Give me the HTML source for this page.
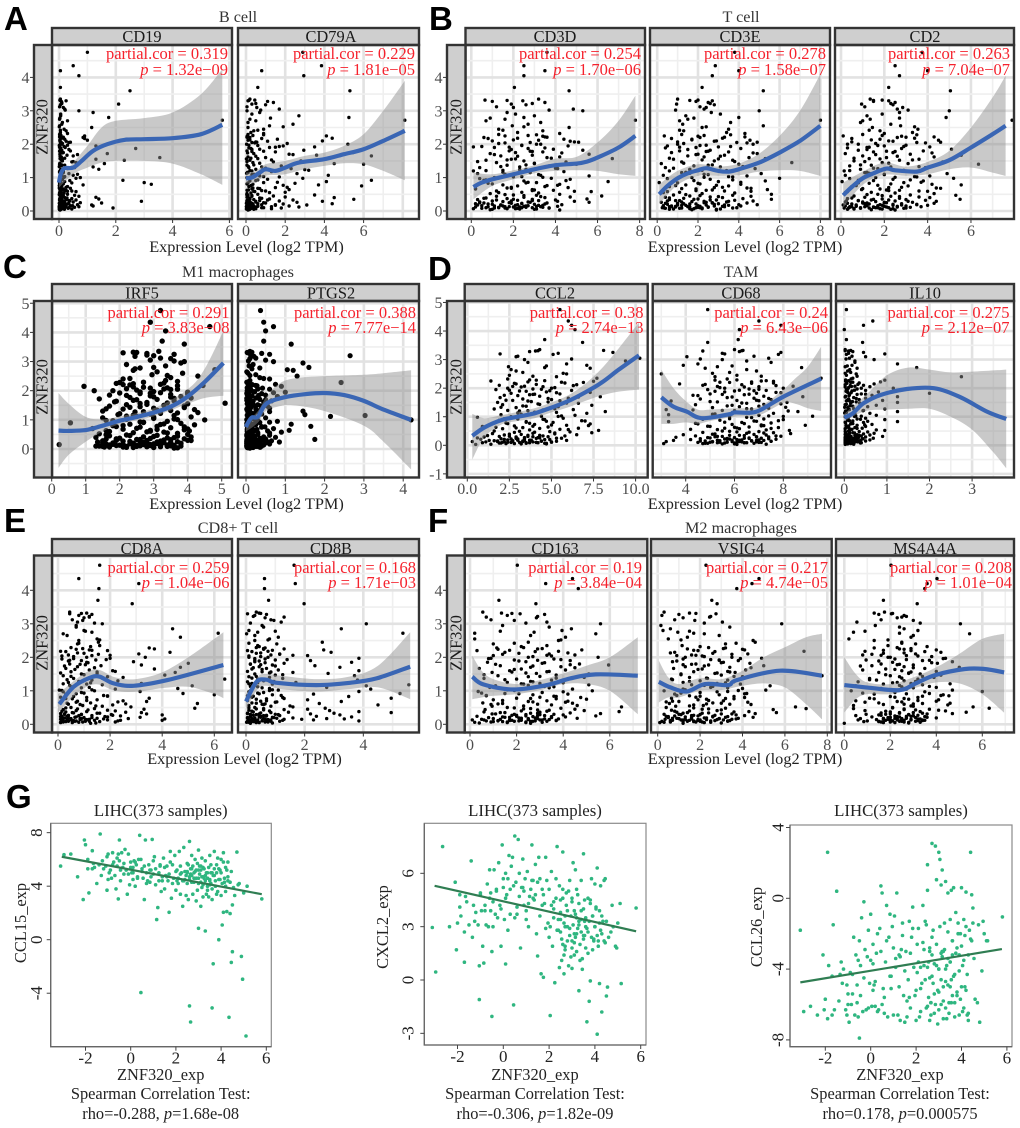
<!DOCTYPE html>
<html lang="en">
<head>
<meta charset="utf-8">
<title>ZNF320 immune correlation panels</title>
<style>
html,body{margin:0;padding:0;background:#fff;}
svg{display:block;}
text{font-family:"Liberation Serif",serif;}
.letter{font-family:"Liberation Sans",sans-serif;font-weight:bold;font-size:33px;fill:#000;}
.title{font-size:16.2px;fill:#333;text-anchor:middle;}
.strip{font-size:16.4px;fill:#1a1a1a;text-anchor:middle;}
.stat{font-size:16.5px;fill:#f5222d;text-anchor:end;}
.xlab{font-size:16.3px;fill:#222;text-anchor:middle;}
.glab{font-size:16.4px;fill:#222;text-anchor:middle;}
</style>
</head>
<body>
<svg id="figure" xmlns="http://www.w3.org/2000/svg" width="1020" height="1128" viewBox="0 0 1020 1128">
<g id="charts"></g>
<g>
<text class="letter" x="4" y="30">A</text>
<text class="letter" x="429" y="30">B</text>
<text class="letter" x="3" y="278">C</text>
<text class="letter" x="428" y="280">D</text>
<text class="letter" x="4" y="532">E</text>
<text class="letter" x="428" y="532">F</text>
<text class="letter" x="6" y="808">G</text>
</g>
<g>
<text class="title" x="238" y="22">B cell</text>
<text class="title" x="741" y="22">T cell</text>
<text class="title" x="238" y="277">M1 macrophages</text>
<text class="title" x="741" y="277">TAM</text>
<text class="title" x="238" y="533">CD8+ T cell</text>
<text class="title" x="741" y="533">M2 macrophages</text>
</g>
<g>
<text class="strip" x="142" y="42">CD19</text>
<text class="strip" x="331" y="42">CD79A</text>
<text class="strip" x="555" y="42">CD3D</text>
<text class="strip" x="740" y="42">CD3E</text>
<text class="strip" x="925" y="42">CD2</text>
<text class="strip" x="142" y="298.5">IRF5</text>
<text class="strip" x="331" y="298.5">PTGS2</text>
<text class="strip" x="555" y="298.5">CCL2</text>
<text class="strip" x="741" y="298.5">CD68</text>
<text class="strip" x="925" y="298.5">IL10</text>
<text class="strip" x="142" y="554">CD8A</text>
<text class="strip" x="331" y="554">CD8B</text>
<text class="strip" x="555" y="554">CD163</text>
<text class="strip" x="741" y="554">VSIG4</text>
<text class="strip" x="925" y="554">MS4A4A</text>
<text class="strip" transform="translate(47.5,127) rotate(-90)">ZNF320</text>
<text class="strip" transform="translate(461.5,127) rotate(-90)">ZNF320</text>
<text class="strip" transform="translate(47.5,387) rotate(-90)">ZNF320</text>
<text class="strip" transform="translate(461.5,387) rotate(-90)">ZNF320</text>
<text class="strip" transform="translate(47.5,643) rotate(-90)">ZNF320</text>
<text class="strip" transform="translate(461.5,643) rotate(-90)">ZNF320</text>
</g>
<g>
<text class="stat" x="228" y="59">partial.cor = 0.319</text>
<text class="stat" x="228" y="75"><tspan font-style="italic">p</tspan> = 1.32e−09</text>
<text class="stat" x="415" y="59">partial.cor = 0.229</text>
<text class="stat" x="415" y="75"><tspan font-style="italic">p</tspan> = 1.81e−05</text>
<text class="stat" x="641" y="59">partial.cor = 0.254</text>
<text class="stat" x="641" y="75"><tspan font-style="italic">p</tspan> = 1.70e−06</text>
<text class="stat" x="826" y="59">partial.cor = 0.278</text>
<text class="stat" x="826" y="75"><tspan font-style="italic">p</tspan> = 1.58e−07</text>
<text class="stat" x="1010" y="59">partial.cor = 0.263</text>
<text class="stat" x="1010" y="75"><tspan font-style="italic">p</tspan> = 7.04e−07</text>
<text class="stat" x="229.5" y="318">partial.cor = 0.291</text>
<text class="stat" x="229.5" y="333"><tspan font-style="italic">p</tspan> = 3.83e−08</text>
<text class="stat" x="416" y="318">partial.cor = 0.388</text>
<text class="stat" x="416" y="333"><tspan font-style="italic">p</tspan> = 7.77e−14</text>
<text class="stat" x="643.5" y="318">partial.cor = 0.38</text>
<text class="stat" x="643.5" y="333"><tspan font-style="italic">p</tspan> = 2.74e−13</text>
<text class="stat" x="828" y="318">partial.cor = 0.24</text>
<text class="stat" x="828" y="333"><tspan font-style="italic">p</tspan> = 6.43e−06</text>
<text class="stat" x="1009.5" y="318">partial.cor = 0.275</text>
<text class="stat" x="1009.5" y="333"><tspan font-style="italic">p</tspan> = 2.12e−07</text>
<text class="stat" x="229.5" y="573">partial.cor = 0.259</text>
<text class="stat" x="229.5" y="588"><tspan font-style="italic">p</tspan> = 1.04e−06</text>
<text class="stat" x="416" y="573">partial.cor = 0.168</text>
<text class="stat" x="416" y="588"><tspan font-style="italic">p</tspan> = 1.71e−03</text>
<text class="stat" x="642" y="573">partial.cor = 0.19</text>
<text class="stat" x="642" y="588"><tspan font-style="italic">p</tspan> = 3.84e−04</text>
<text class="stat" x="828" y="573">partial.cor = 0.217</text>
<text class="stat" x="828" y="588"><tspan font-style="italic">p</tspan> = 4.74e−05</text>
<text class="stat" x="1012" y="573">partial.cor = 0.208</text>
<text class="stat" x="1012" y="588"><tspan font-style="italic">p</tspan> = 1.01e−04</text>
</g>
<g>
<text class="xlab" x="246.5" y="252">Expression Level (log2 TPM)</text>
<text class="xlab" x="745" y="252">Expression Level (log2 TPM)</text>
<text class="xlab" x="246.5" y="509">Expression Level (log2 TPM)</text>
<text class="xlab" x="745" y="509">Expression Level (log2 TPM)</text>
<text class="xlab" x="244.5" y="764">Expression Level (log2 TPM)</text>
<text class="xlab" x="745" y="764">Expression Level (log2 TPM)</text>
</g>
<g>
<text class="glab" style="font-size:16.8px" x="160.7" y="816">LIHC(373 samples)</text>
<text class="glab" x="160.7" y="1080">ZNF320_exp</text>
<text class="glab" x="160.7" y="1099">Spearman Correlation Test:</text>
<text class="glab" x="160.7" y="1119">rho=-0.288, <tspan font-style="italic">p</tspan>=1.68e-08</text>
<text class="glab" transform="translate(26,923) rotate(-90)">CCL15_exp</text>
<text class="glab" style="font-size:16.8px" x="535" y="816">LIHC(373 samples)</text>
<text class="glab" x="535" y="1080">ZNF320_exp</text>
<text class="glab" x="535" y="1099">Spearman Correlation Test:</text>
<text class="glab" x="535" y="1119">rho=-0.306, <tspan font-style="italic">p</tspan>=1.82e-09</text>
<text class="glab" transform="translate(388,927) rotate(-90)">CXCL2_exp</text>
<text class="glab" style="font-size:16.8px" x="901" y="816">LIHC(373 samples)</text>
<text class="glab" x="900" y="1080">ZNF320_exp</text>
<text class="glab" x="900" y="1099">Spearman Correlation Test:</text>
<text class="glab" x="900" y="1119">rho=0.178, <tspan font-style="italic">p</tspan>=0.000575</text>
<text class="glab" transform="translate(762,927) rotate(-90)">CCL26_exp</text>
</g>
</svg>
<script>
// ZNF320 expression of the samples shown in panels A-F (shared y values)
const ZNF320=[4.75,4.35,4.2,4.05,3.7,3.6,
3.35,3.32,3.3,3.28,3.25,3.2,3.18,3.1,3.05,3,2.95,2.85,2.8,2.75,2.72,2.7,2.6,2.55,2.5,2.45,2.4,2.35,
2.28,2.25,2.22,2.2,2.18,2.15,2.12,2.1,2.07,2.05,2.02,2,1.97,1.95,1.92,1.9,1.87,1.85,1.82,1.8,1.77,1.75,1.72,1.7,1.67,1.65,1.62,1.6,1.57,1.55,1.52,1.5,1.47,1.45,1.42,1.4,1.37,1.35,1.32,1.3,1.27,1.25,1.22,1.2,
1.18,1.15,1.12,1.1,1.07,1.05,1.02,1,.98,.95,.92,.9,.88,.85,.83,.8,.78,.75,.73,.7,.68,.66,.64,.62,.6,.58,.56,.54,
.52,.5,.48,.47,.45,.44,.42,.41,.4,.38,.37,.36,.35,.34,.33,.32,.31,.3,.29,.28,.27,.26,.25,.24,.23,.22,.21,.2,.19,.18,.17,.17,.16,.15,.15,.14,.13,.13,.12,.12,.11,.1,.1,.09,.09,.08,.07,.06,.05,.03,
3.31,3.22,3.12,3.02,2.9,2.78,2.65,2.52,2.42,2.32,
2.29,2.26,2.21,2.17,2.13,2.09,2.04,2,1.96,1.93,1.89,1.84,1.79,1.74,1.69,1.64,1.58,1.53,1.48,1.43,1.38,1.33,1.28,1.24,1.21,2.24,2.06,1.91,1.78,1.56,
1.16,1.09,1.03,.97,.91,.86,.81,.76,.71,.67,.63,.59,.55,1.13,1.01,.93,.84,.77,.69,.61,
.49,.46,.43,.39,.35,.33,.31,.29,.27,.25,.23,.21,.2,.19,.18,.16,.15,.14,.13,.12,.11,.1,.09,.08,.07,.06,.05,.04,.3,.26,.22,.18,.14,.11,.09,.07,.24,.17,.13,.1];

// Per-gene expression values, same sample order as ZNF320
const CD19=[1,.5,.05,.7,.05,2.5,
.05,.03,.25,.08,.1,2.1,.05,.15,.2,.7,1.2,.06,1.75,.02,5.75,.3,.1,.02,1.15,.18,.25,.05,
.05,.9,.02,.85,.1,.2,1,.03,.07,.35,.12,.05,.3,1.3,.02,.22,2.7,.05,.1,.4,.06,.15,1.7,.03,.28,.5,.08,3.55,.04,1.3,2.3,.12,.45,.6,1.6,.02,.2,.08,1.2,.55,.3,1.4,.05,.1,
.02,.15,.35,.65,.5,.08,.03,.75,.6,.12,2.25,.05,.2,3,.02,3.25,.85,.1,.3,.06,.4,.15,.03,.25,.45,.6,.07,.18,
.02,.3,.1,.55,.05,.7,.12,1.3,.2,.03,.45,1.4,.08,.25,.6,.02,.35,.15,2.9,.05,.5,.1,.75,1.5,.2,.03,.3,.08,.65,1.15,.02,.12,.4,.05,1.2,.18,.7,.03,.25,.1,.55,.02,.35,.06,1.9,.15,.02,.45,.08,.04,
.04,.1,.02,.22,.06,.03,.12,.01,.05,.3,
.02,.07,.15,.9,.03,.25,.05,.1,.01,.18,.06,.35,.02,.12,.65,.04,.2,.08,.5,.03,.1,.01,.28,.06,.15,.03,.4,.02,.08,.12,
.02,.1,.2,.04,.38,.07,.15,.01,.25,.05,.12,.3,.02,.06,.18,.03,.45,.09,.01,.22,
.01,.15,.05,.28,.02,.1,.38,.04,.2,.07,.01,.13,.03,.25,.06,.48,.02,.09,.17,.04,.01,.11,.03,.32,.06,.01,.19,.02,.08,.14,.03,.24,.01,.05,.12,.02,.35,.07,.01,.16];
const CD79A=[2.9,3.85,.8,2.95,.6,5.3,
.2,.45,.1,1.1,1.4,.3,1,.55,1.7,.05,.7,2.7,5.25,.2,8.1,.5,2.4,1.2,.1,.9,.4,.25,
.9,4.1,.05,.2,4.4,1.6,.1,3.9,.5,.3,2.1,5.2,.15,1.9,3.5,1.2,.25,.7,2.95,.05,1.5,5.45,.4,2.2,3.6,6.4,.1,1,.6,4,.2,2.8,1.4,.35,4.5,6,.05,1.8,.8,.15,2.3,.5,3.2,.3,
1.3,.1,2.6,.4,4.2,.7,1.7,.05,2.9,1.1,6.4,.2,4.1,.9,2.5,.35,3.7,5.9,.15,1.5,.6,.3,2.2,.05,1,.45,2,.25,
.05,.6,3.5,.1,1.4,.3,2,.05,4.5,.8,.2,1.2,5.5,.4,2.4,.1,.7,1.7,3.9,.05,.5,2.6,.15,1,.3,4.4,1.9,.05,.8,3.1,.2,1.5,.1,2.2,.4,.6,.05,1.3,.25,2.7,.1,.9,.3,.05,1.8,.5,.15,.05,.2,.1,
.15,.5,.05,.75,.3,1.25,.1,1.9,.6,.9,
.1,.35,.05,.8,.2,1.1,.45,.03,.6,1.7,.15,.3,.9,.08,2.4,.5,.25,1.3,.05,.7,.4,.12,1,3,.2,.06,.55,1.5,.3,.02,
.08,.3,.9,.15,.5,1.6,.05,.25,2.1,.7,.12,.4,1.2,.03,.2,.6,.1,1.9,.35,.8,
.04,.3,.1,.7,.2,1.1,.05,.5,.15,.9,.02,.35,.1,1.5,.25,.06,.6,.18,.03,.45,.12,.8,.07,.28,1.3,.02,.4,.14,.05,.22,.6,.09,.03,.33,.16,.5,.06,.2,.02,.11];
const CD3D=[3.6,2.5,3.5,2.5,2.05,4.65,
3.2,.65,2.45,1,3.5,1.9,2.6,2,4.85,5.3,1.7,3,2.5,1.6,7.8,.7,2.7,1.95,4.65,1.3,3.4,2.2,
3.1,1.6,3.5,.6,2.2,4.4,3.2,1,4.9,2.8,1.3,3.3,2.4,4.6,.1,1.1,2.7,3.9,5.3,1.8,3.4,2.1,.9,5.6,2.9,1.4,4.2,3.6,6.7,1.9,.7,2.5,4.5,1.2,3,5,1.7,3.7,2.3,.4,4.1,2.6,1.5,.1,
4.4,2.8,.3,1.6,3.3,5.6,2,1.1,3.8,4.7,.6,2.5,6.5,3.1,.8,4.2,1.5,2.2,3.5,4.6,1.9,.2,2.9,3.9,1.2,5.7,2.4,3.2,
.9,4.2,2,3.1,6.2,1.2,4.7,2.5,3.5,.6,1.7,5.5,2.9,.3,4,2.2,3.2,1,4.9,1.5,2.7,5.6,.4,3.6,1.9,2.4,.8,3,4.3,1.4,2.1,3.4,.5,1.1,2.6,4.1,1.8,3.3,.2,2.3,1.3,2.9,.7,3.7,1.6,2.2,.1,3.1,1,4.2,
1.7,2.9,1.2,3.7,2.1,.9,3.3,2.5,1.5,4.2,
1.3,2.7,3.6,.8,2,4.7,1.6,3.1,2.4,.5,3.5,1.9,2.8,4.3,1.1,2.2,3.8,1.7,.3,3,2.6,1.4,4,2.3,.7,3.4,5.1,1.8,2.9,2.1,
1.5,3.2,2.4,.4,4.5,2.7,1,3.6,1.9,.2,3,4.9,1.3,2.2,3.4,.7,2.6,4.1,1.7,2.9,
1.6,2.5,3.3,.7,2,1.2,2.9,4.1,.4,1.8,2.4,3.5,1,2.2,.3,2.7,1.5,3.1,.8,2,2.6,1.3,3.7,.5,1.7,2.3,3,.9,1.9,2.8,.2,1.4,2.5,3.4,1.1,2.1,.6,3.2,1.6,2.4];
const CD3E=[3.8,2.85,4,2.7,2.2,5.2,
1,2,2.7,1.9,2.5,.95,2.8,2.4,2.3,5,2.65,1.4,4,1.5,8,1.1,1.25,5.2,2.2,3.5,1.3,3.4,
3.6,.35,4.3,2.1,3.2,1.7,4.55,2.9,1,3.9,1.3,4.7,2.4,.5,3,1.9,4.1,6.3,2.6,1.1,3.5,.7,4.9,2,3.3,1.5,2.3,4.5,5.3,.8,3.7,2.8,1.2,6.6,.2,4,2.5,1.8,3.1,.4,4.8,1.6,2.2,.6,
3.2,1.2,5.1,2.3,.3,4.4,3.7,1.7,6,2.6,.9,5.3,3,.1,2,4.1,1.4,3.5,.6,2.8,4.6,1.9,5.4,2.4,3.3,.5,1.1,3.8,
2.2,5.6,.8,3.7,1.6,4.6,2.6,.4,3.2,1.3,4.2,2,5.6,.6,2.9,3.8,1.1,4.7,2.3,1.7,3.4,.2,2.7,4.4,1,3,1.9,.5,4.9,2.4,3.5,1.4,.3,2.8,4.1,2.1,.7,3.3,1.6,.9,2.5,.25,3.9,1.2,2.2,.4,1.8,3.1,.6,2.9,
1.6,2.6,2.1,.9,3.1,1.8,3.6,2.4,1.1,4.3,
1.2,2.3,3.3,.7,1.7,2.8,4.4,1,2.1,3.6,.4,1.5,2.5,4.7,1.9,3.1,.6,2.2,3.8,1.3,2.7,4.2,.8,1.6,3.4,2,4.9,1.1,2.4,3,
1.4,2.5,3.5,.5,1.8,4.1,2.1,.9,3.2,1.2,2.7,4.6,.3,1.6,2.3,3.7,1,2.9,4.4,1.9,
1.4,2.1,3,.6,1.8,2.6,.9,3.5,1.2,2.3,.4,1.6,2.8,4,1,2,.7,3.2,1.5,2.5,.3,1.9,3.7,1.1,2.2,.8,2.9,1.7,.5,2.4,1.3,3.3,.9,2,.35,1.6,2.7,1.2,.6,2.1];
const CD2=[3.75,2.5,4,2.7,2.2,5.05,
1.35,1.9,2.2,1.5,2.5,.95,2.4,2.85,2.6,5,2.7,1.2,4.85,1.35,7.9,1,2.3,2.75,1.45,3.55,1.8,3.3,
3.5,.1,4.3,2.6,3.4,1.8,4.5,2.2,.5,3.5,1.6,.3,3,2,4.1,1.2,2.8,5.1,.8,3.8,1.5,2.4,.2,3.2,5.55,1,4.3,2.1,1.3,3.6,2.7,.6,4.7,1.9,3.1,6.35,1.4,.4,2.3,3.9,1.7,.9,2.9,.15,
3.3,1.1,4.9,2,.2,4.1,3.5,1.6,5.2,2.4,.8,3.8,.05,2.9,1.3,4.2,5.55,3.1,.5,2.2,4.6,1.8,.95,2.7,3.6,.3,1.4,2.5,
4.3,1.7,3.2,5.3,.6,2.3,3.6,1.1,4.1,2.7,.3,1.9,5.5,3,1.4,3.9,.8,2.5,4.4,1.6,.2,3.3,2.1,1,4.3,2.8,.5,3.5,1.8,.1,2.4,4,1.2,3,.7,2,3.7,.4,1.5,2.6,3.2,.9,2.2,.15,1.3,2.9,.6,1.9,.3,2.5,
1.5,2.3,1.1,3.1,1.9,2.7,.9,3.4,1.3,2,
1,1.9,3,.5,1.4,2.4,3.9,.8,1.7,2.9,.3,1.2,2.1,4.2,1.6,2.6,.6,3.3,1.1,2.2,.9,3.6,1.5,2,.4,2.8,4.6,1.3,2.5,1.8,
1.2,2,3.4,.4,1.5,3.7,2.3,.7,2.8,1,2.1,4,.2,1.3,2.5,3.2,.8,1.7,4.4,2.2,
1.2,1.9,2.7,.5,1.5,2.2,.8,3.1,1,2,.3,1.3,2.4,3.5,.7,1.7,.2,2.6,1.1,2.1,.4,1.6,3,.9,1.8,.6,2.3,1.4,.25,2,1.1,2.8,.7,1.5,.35,2.4,1.2,1.9,.5,1.7];
const IRF5=[3.2,2.9,4.65,3.35,3.25,3.9,
3.15,2.4,2.1,2.8,3.6,3,2.45,3.5,2.9,3.9,3.8,3.35,3,2.45,4.8,2.4,3.85,2.95,4.3,3.5,2.1,3.35,
2,1.9,3.2,2.3,4.45,.95,2.7,3.4,2.2,3.7,2.5,1.25,3,4,2,2.6,3.5,1.7,2.9,3.8,2.3,4.1,1.4,3.1,2.4,3.6,1.85,2.8,5.1,4,2.2,3.3,1.7,2.6,3.9,3,2.1,4.2,3.5,1.5,2.45,4.3,3.2,2.9,
1.95,3.6,2.5,4.1,1.5,3,2.2,4.5,1.6,3.4,2.7,.55,3.8,2.3,4.2,1.8,3.1,2.6,3.5,1.2,2.1,3.9,2.9,4.05,1.7,3.3,2.4,3.7,
1.4,4,2.2,3.1,1.7,3.7,2.7,4.1,1.3,3.4,2,2.9,3.9,1.6,2.5,3.5,1.9,4,2.8,1.5,3.2,2.3,3.7,1.35,2.7,3.3,1.8,3.8,2.4,3,1.6,3.5,2.1,.22,2.9,1.7,3.6,2.5,3.2,1.9,2.6,3.8,1.3,2.2,3.4,2.8,1.55,3,2.4,3.6,
2.5,2.8,3.2,3.6,2.2,2.6,3.1,3.4,2.3,3.7,
2.7,3.3,2.1,3.7,2.4,2.9,3.5,1.8,2.6,3.2,4,2.2,3,3.6,2.5,1.9,3.4,2.8,3.9,2.3,1.6,3.1,2.7,3.7,2,2.4,3.3,2.9,3.5,2.6,
2.4,3,3.6,1.8,2.7,3.3,2.1,3.9,2.5,3.1,1.6,2.8,3.4,2.2,3.7,2.6,3.2,1.9,4,2.9,
1.6,2.3,3,3.6,1.9,2.6,3.3,4.1,2.1,2.8,3.5,1.5,2.4,3.1,3.8,1.8,2.7,3.4,2,2.9,3.6,1.4,2.5,3.2,1.7,2.2,3,3.7,1.9,2.6,3.3,2.3,2.8,3.5,1.5,2.1,3.1,2.4,2.9,3.4];
const PTGS2=[.37,.45,.7,.5,.45,1.15,
.1,.15,.05,.4,.6,2.65,.2,.1,.5,.7,1.45,.08,1.6,.15,1.05,1.2,.05,.25,1.3,.35,.6,.1,
2.42,.05,.75,.15,.25,.9,.1,.03,.3,.6,.05,.12,.2,1,.07,.4,.03,.5,.15,.8,.05,.25,.1,.35,.02,.65,.45,.08,.15,.03,.3,.2,.55,.05,.12,.6,.02,.1,.35,1.45,.25,.05,.15,.4,
1.5,3.03,2.15,.05,.5,.15,.03,4.2,.3,.8,.6,.1,.02,1.15,.25,.05,1.65,.4,.15,.7,.03,.2,1.1,.55,.08,.9,.3,.04,
.03,.3,.1,.6,.02,.2,.45,.05,.75,.12,.35,.03,.5,.08,1.75,.25,.02,.4,.15,.65,.05,.3,.1,.85,.03,.2,.5,.07,.35,.02,.15,.6,.04,.25,.1,.45,.02,.3,.08,.18,.03,.4,.12,.05,.25,.02,.15,.06,.03,.1,
.03,.12,.25,.06,.18,.35,.02,.1,.45,.08,
.02,.08,.16,.28,.05,.42,.12,.03,.22,.7,.06,.32,.1,.02,.5,.18,.04,.14,.38,.07,.25,.03,.6,.11,.2,.05,.3,.02,.09,.16,
.03,.1,.22,.05,.35,.15,.02,.48,.08,.28,.04,.18,.6,.12,.02,.25,.07,.4,.14,.03,
.02,.12,.22,.05,.38,.09,.17,.03,.28,.55,.06,.14,.02,.33,.1,.2,.04,.45,.08,.16,.02,.26,.07,.12,.03,.36,.18,.05,.1,.02,.23,.06,.14,.03,.3,.08,.02,.19,.05,.11];
const CCL2=[5.5,6,6.2,6.4,4.6,6.85,
4.3,8.1,4.05,3.7,8.65,1.95,5.1,2.9,10.25,3.4,9.4,5.9,7.1,2.45,4.6,7.3,2.9,3.3,5.9,2.5,5.3,7.7,
4.1,1.4,3.6,6.9,5.8,2.9,6.5,1.9,3.4,4.5,5.2,2.4,3.9,1.7,6.2,3.1,4.7,7.3,2.6,5.5,3.7,2.2,4.3,7.9,1.95,6,3.3,5,2.7,3.6,4.8,1.8,6.6,4.2,2.1,7.4,3.5,5.4,2.9,4.9,1.6,6.3,2.4,3.1,
8.2,5.3,7.1,3.8,2,6.4,4.4,2.6,.6,5.7,3,4.6,1.9,7,3.5,5.1,2.3,7.3,4,5.9,2.8,.9,4.8,3.3,6.6,2.1,5.5,3.7,
7.8,1.6,4.9,6.1,2.8,7.4,3.9,1.5,5.2,3.2,6.5,2.2,4.3,1.2,5.8,2.5,3.6,4.8,1,2.9,3.4,.6,5.3,4.1,2,3,.8,4.6,2.4,3.7,1.3,5.9,2.7,1.8,3.3,4.4,.3,2.2,3.9,1.1,5,2.6,3.1,.9,4.2,1.9,3.5,2.3,4.7,.5,
4.2,5.4,3,6.2,3.6,4.7,2.6,5.7,3.9,2.4,
3.7,4.6,5.6,2.8,4.1,6.3,3.2,5,4.4,2.5,3.5,5.3,4,3,6.6,4.8,2.3,3.8,5.9,4.3,3.3,2,5.2,4.5,3.6,7.5,2.7,4.9,3.9,5.5,
4,3.2,5.6,2.7,4.5,6.8,3.5,2.4,5,3.9,1.7,4.3,6,3,5.4,2.2,4.7,3.7,7.2,2.9,
3.1,4,5.2,2.5,3.6,4.5,1.9,2.9,4.2,5.6,3.4,2.2,4.9,3,3.8,1.6,4.4,2.7,3.3,5,2.4,4.1,3.5,2,4.7,2.8,3.2,1.4,3.9,4.3,2.6,3,5.3,2.1,3.7,4.6,2.9,3.4,1.8,4.1];
const CD68=[4.9,7,7.9,6.2,6.15,4.9,
6,6.35,4.7,6.2,7.9,5.6,7.8,4.05,7.4,5.5,6.5,4.5,3.9,5.3,8.75,4.8,6.9,5.8,3,6.1,5.2,9.55,
5.2,7.1,6.7,5.8,7.6,3.75,6.3,4.7,8.4,7,5.4,8,6.6,4.9,7.3,6,5.6,7.7,6.9,5,6.4,4.3,7.2,8.8,5.7,6.8,4.6,7.5,6.1,3.4,5.3,8.15,6.5,7.9,4.4,5.9,7,6.2,5.1,7.4,6.7,3.2,5.5,8.2,
8.6,6,7.6,5.2,3.3,7,9.2,5.8,6.5,4.8,7.2,8,5.4,6.8,3.3,6.3,7.5,4.5,5.9,8.9,7.1,5,6.6,7.8,5.6,6.2,4.2,7.3,
8.25,5.5,7,6.1,4.7,7.6,6.5,8.3,5.2,6.8,3.9,7.3,5.8,6.4,4.4,7.9,5.3,6.9,7.4,3.6,6,5,7.1,6.6,4.6,5.6,7.7,4.2,6.3,5.9,7.2,3.5,5.4,6.7,4.8,7.5,6.2,3.2,5.1,6.9,5.7,7,4.5,6.4,5.3,6,4.9,3.1,5.5,6.1,
6.3,5.5,6.8,4.6,7.5,5.9,6.5,5.1,7.1,5.7,
6.1,7.3,5.4,6.7,4.8,7.7,6.4,5.6,7,6.2,5.2,7.9,6.6,4.5,5.9,7.4,6.9,5,6.3,7.2,5.7,8.1,6.5,4.3,6,7.6,5.3,6.8,5.5,7,
6.2,5.1,7.4,6.7,4.7,7.8,5.6,6.4,7.1,4.9,6,7.5,5.3,6.6,8,5.8,6.9,4.4,7.2,6.1,
5.8,6.6,7.2,5.1,6.2,7.7,5.5,6.9,4.9,6.4,7.4,5.7,6.1,7,5.3,6.7,4.6,7.5,5.9,6.3,5,7.1,6.5,5.6,6.8,4.7,6,7.3,5.2,6.6,5.8,6.2,7,5.4,6.4,4.8,5.7,6.9,5.1,6.1];
const IL10=[.05,.67,.45,0,.05,.43,
.02,.15,.1,.2,.45,.95,.05,.5,.12,.7,.25,1.25,.18,.02,1.7,.3,.08,.15,.28,.05,2.75,.2,
.95,.05,.85,.15,.35,.7,.02,.45,.25,.6,.1,1.15,.3,.05,.5,.18,.8,.08,2,.4,.12,.65,.03,1.25,.22,.5,.1,.35,.9,.05,.28,1.25,.15,.42,.02,.75,.2,.55,.08,.33,.95,.12,.45,.03,
1.25,.05,.6,.25,.15,.75,.4,.02,.1,.5,.3,.95,.08,.2,1.25,.45,.03,.15,.65,.3,.1,.5,.05,.25,.42,.02,.18,.75,
.95,.1,.35,.55,.03,.2,.7,.12,.45,.02,.3,.6,.08,.25,.4,.05,.9,.15,.5,.02,.33,.1,.68,.2,.03,.42,.12,.28,.6,.05,.18,.38,.02,.1,.5,.25,.05,.15,.32,.03,.22,.08,.02,.4,.12,.05,.18,.03,.08,.02,
.02,.1,.18,.04,.25,.07,.13,.02,.3,.16,
.03,.1,.2,.06,.32,.14,.02,.4,.08,.24,.04,.16,.5,.11,.02,.28,.07,.19,.36,.05,.13,.01,.22,.09,.44,.03,.17,.06,.3,.12,
.03,.15,.27,.07,.38,.12,.02,.2,.48,.09,.05,.3,.14,.01,.24,.08,.55,.17,.04,.11,
.02,.12,.24,.05,.35,.09,.16,.03,.28,.07,.44,.13,.02,.2,.06,.32,.1,.03,.18,.26,.05,.12,.02,.38,.08,.15,.04,.22,.07,.02,.11,.3,.05,.17,.03,.09,.25,.02,.13,.06];
const CD8A=[1.6,.8,3.1,1.57,1.53,2.85,
.45,1.1,.45,1.3,.8,1.2,1,.95,.75,1.7,.7,4.4,1,1.3,6.15,.2,4.7,1.5,.8,1.55,.75,1.6,
3.5,3.7,1.2,1.9,.1,4.3,1,3.1,.4,1.3,.6,3.35,2,.15,1.45,.9,2.9,1.1,5,.45,3.2,1.65,.75,4.7,.3,3.7,1.2,2.1,.5,4.5,1.5,.9,4.1,.2,1.9,2.5,.6,6.4,1.3,2.3,.8,.4,3.2,1.1,
1.7,5.15,.5,1.2,4.6,2.2,.05,1.4,3.15,.9,4.8,.3,6,1.9,.6,1.1,3.5,.2,1.5,2.5,3.4,.7,1.25,5.35,.4,2.1,.95,1.7,
2.8,.5,5.25,1.4,3.3,.2,1.9,.7,2.2,1.1,.3,2.6,3.2,.6,1.6,.1,3.4,.9,2.05,4,.4,1.3,2.4,.15,1.8,.7,3.15,1,.25,1.5,2.7,.5,4.1,1.2,.1,.85,1.9,.35,4,1.4,.6,.15,2.3,1.05,.4,1.6,.2,.8,.1,1.25,
.9,1.2,.55,1.4,.7,1.05,.35,1.6,.8,1.25,
.5,.95,1.3,.3,.75,1.55,.15,1.1,.6,1.85,.4,1.15,.85,.25,1.4,.65,2.2,.1,1,.5,1.7,.35,.8,1.25,.2,.7,2,.45,1.05,1.5,
.45,.9,1.3,.2,.7,1.75,.1,.55,1.1,2.3,.35,.85,1.45,.6,.15,1,1.9,.3,.75,2.6,
.3,.75,1.15,.15,.55,1.5,.25,.9,2.1,.4,.1,.65,1.3,.2,.85,1.75,.35,1.05,.5,2.4,.15,.7,1.2,.3,.95,.1,.55,1.45,.25,.8,1.9,.4,1.1,.2,.65,2.2,.35,.9,.15,.6];
const CD8B=[1.64,.63,1.68,.63,.77,1.98,
.35,.45,.05,.7,.3,1.3,.65,.95,1.2,4.1,.55,3.25,.1,.4,5.35,.02,1.1,.8,.3,2.6,1.05,.4,
.65,1.3,2.65,.05,.75,2.9,.35,1.15,.85,2.1,.5,.1,3.85,.65,1,2.2,.3,3.6,1.3,.15,.9,2.35,.45,3.2,.7,.2,1.1,3.85,.55,1.6,2.8,.3,1,3.7,.1,.8,1.25,.4,3.8,.6,.05,1.7,.2,.9,
5.55,4.1,.4,2.75,.8,4.25,1.1,.15,3.85,.6,5.25,2.3,.9,.05,3.5,1.25,4.95,.35,2.1,.7,3.25,1,.2,2.5,.55,4.5,.1,.85,
1.6,.3,2.7,.6,2.1,1.3,.1,2.85,.8,3.85,.25,1.45,4.95,.5,3,.05,2.2,1,.35,3.2,.7,1.15,.15,2.4,.45,3.6,.9,.05,1.6,.3,2.75,.6,3.35,.2,1.9,.75,.1,2.3,.4,1.25,.55,3.85,.2,.85,.05,.3,.65,.1,.45,.15,
.5,.25,.85,.15,.6,1,.3,.75,.1,.45,
.35,.6,.9,.2,.5,1.15,.1,.75,.3,1.4,.45,.65,.15,1,.25,.55,.05,.8,1.25,.35,.2,.7,.95,.4,.1,.6,1.6,.3,.5,.85,
.3,.55,.9,.1,.45,1.2,.2,.7,.05,1.05,.35,.6,1.5,.15,.8,.4,.25,1.3,.5,.65,
.1,.35,.6,.2,.85,.05,.45,1.1,.25,.7,.15,.5,.95,.3,.05,.65,1.3,.2,.4,.8,.1,.55,1.15,.25,.75,.02,.35,.9,.15,.6,.45,1.05,.1,.3,.7,.05,.5,.2,.85,.12];
const CD163=[2.03,4.4,3.25,4.65,1.24,2.83,
.55,1.35,2.15,3.2,1.6,.7,2.85,1.9,3.3,5.6,1.4,4.35,3.95,2.75,.2,5.4,4.1,.2,3.8,2.5,1,3.3,
1.15,2.9,4.8,.3,3.8,1.5,2.1,3.4,4.5,1,2.7,5.5,.9,3.6,1.9,4.3,2.4,.75,3.1,4.7,5.95,1.3,3.9,2.6,.4,2.2,4.1,1.7,3.3,.95,2.85,5.1,3.7,1.2,2.5,4.9,.6,2,3.5,4,2.7,1.6,3,2.3,
5.1,1.1,3.6,.85,2.4,4.4,1.9,5.25,.35,3.1,1.5,4.2,2.7,.7,3.7,4.75,2,5,1,3.3,2.5,4.1,.55,1.4,2.9,3.5,4.6,.95,
6.5,1.6,3.9,2.6,4.5,.65,3.4,4.9,2.2,6.4,.6,3,1.3,4.3,2.9,5.6,.95,3.6,2.4,4,1.8,3.2,5.4,.3,2.7,4.1,1.5,3.5,2.1,4.6,1,2.9,3.8,.5,2.5,1.7,3.1,.1,2.2,3.7,1.2,2.8,.7,1.9,3.3,1.4,2.4,.2,1.6,2.6,
1.8,2.9,.9,2.4,3.4,1.3,2.6,3.9,1.9,2.2,
2.3,3.1,1.7,2.8,4.2,1.4,3.5,2.5,.8,3.9,2.1,3.2,1.1,2.7,4.5,1.9,3.4,2.4,.6,3,3.7,1.5,2.6,4,2.2,1.2,3.3,2.9,4.3,1.8,
2.5,3.4,1.6,4,2.1,.7,3,3.7,1.4,2.7,4.4,.9,2.3,3.2,1.9,.5,3.6,2.6,4.2,1.2,
1.9,2.3,2.9,3.3,1.5,2.6,1.1,3,2,2.4,3.5,1.7,.8,2.8,2.2,3.2,1.3,2.5,.6,1.8,3.7,2.1,2.7,1,1.6,3.1,2.4,.4,1.9,2.9,1.4,2.2,3.4,1.7,2.6,.9,2,2.5,3,1.2];
const VSIG4=[2.28,4.78,4.45,3.73,2.55,2.8,
.3,1.5,2.75,1,.2,2.45,1.2,1.75,3.05,5.85,.15,.6,.25,.95,1.7,2.2,1.4,.5,4.5,4.6,3.2,1.15,
3.2,1.4,4.1,1.9,6.9,.8,2.6,4.25,1.6,.9,2.2,3.5,4.9,1.2,2.9,3.8,.7,3.1,4.35,1.8,2.4,5,1.3,3.4,.75,2.1,4.15,5.85,1.7,3.65,2.7,1.1,3,7.75,4,1.5,2.35,.65,3.3,2,3.6,1.2,2.8,3.9,
1.6,5.3,.5,2.5,4,1.2,5.1,.3,3.3,2,4.2,.8,2.9,1.5,3.6,4.1,.65,2.3,1.9,3.1,1,4.25,2.6,.55,3.4,1.7,2.15,.85,
6.5,.4,3.2,7,2.1,5.45,.65,2.8,1.5,4.3,3.6,.9,5.6,2.4,1.2,4.6,3,.3,2,3.7,1.7,4.1,.8,2.6,3.3,1.3,4.5,.5,2.2,3.8,1,2.9,1.6,3.5,.35,2.3,1.1,3.1,1.9,.7,2.7,1.4,3.3,.2,2,1.7,.6,2.5,.1,1.2,
1.8,2.5,.8,2.2,3.4,1.5,2.9,1.1,3.7,2,
2.4,3.1,1.7,2.7,.6,3.5,2.1,1.3,3.9,2.5,.9,3,1.6,2.2,4.4,1.9,3.3,2.8,1.1,3.6,2.3,.7,1.5,3.2,2.6,4,1.8,2.9,1.2,3.4,
2.2,3.3,1.3,2.8,4.1,.9,1.8,3.6,2.4,.4,3,4.4,1.5,2.6,3.8,1.1,2,3.2,.7,2.3,
1.7,2.4,3,.8,1.4,2.1,3.5,1.1,2.7,1.9,.5,3.2,1.6,2.3,.9,3.7,1.3,2.8,2,1.5,.6,2.5,3.3,1.2,1.8,.3,2.2,3,1,1.6,2.6,.7,1.9,3.4,1.4,2.1,.4,2.9,1.2,1.7];
const MS4A4A=[2.03,4.03,3.6,3.5,1.7,3.17,
1.75,1.3,2.05,1.5,2.6,2.5,2.3,3,.55,5.05,1.35,2.6,3.2,.4,2.4,5.45,2.9,.2,1.3,2.5,3.1,1.9,
1.3,2.4,4,2.9,.9,4.2,1.7,3.1,.8,2.7,3.8,1.9,4.4,2.2,.95,3.4,4.7,2.1,4.05,1.6,3,1.2,2.6,5,3.5,1.8,.8,2.5,4.5,1.5,2.8,3.3,4.2,2,2.4,3.9,1.1,3.2,1.4,2.6,.6,2.3,2.9,1.7,
3.4,.5,2.5,4,1.6,2.7,4.7,.3,6,2.2,3.7,1.3,4.3,4.55,2,3.2,1.1,2.8,4.1,.5,2.3,.9,1.5,3.4,2.6,4.5,.4,3,
5.6,2.1,6.3,.4,3.7,2.6,4.1,.9,4.4,3.3,2,5.3,3,1.6,2.4,4.7,3.6,.95,2.8,1.5,3.2,.5,2.2,2.7,3.5,1.2,2,3.1,4,1.7,2.5,.7,3.3,1.9,2.9,1.4,2.3,.6,2.6,1.8,3.4,1,2.1,1.5,2.4,.85,2,2.8,1.7,0,
2.1,2.7,1.6,3.3,2.4,.9,3,1.9,2.5,3.6,
2.3,2.9,1.7,3.5,2.6,1.2,3.2,2,4.3,2.7,1.5,3.8,2.4,.7,3,2.2,4,2.8,1.8,3.4,2.5,1.1,3.1,2.1,4.6,2.6,1.6,3.7,2.3,2.9,
2.4,3,1.8,3.5,2.7,4.2,2.2,1.3,3.2,2.5,4.6,1.7,2.9,3.7,2.1,.8,3.4,2.6,4,3,
2.1,2.6,3.1,1.8,2.4,3.4,2,2.8,1.6,3,2.3,3.6,1.9,2.7,2.2,3.2,1.7,2.5,2.9,3.5,2,2.4,3.1,1.5,2.6,3.3,2.2,2.8,1.8,3,2.4,2.7,2,3.2,2.5,1.6,2.9,2.3,3.4,2.1];

// Fitted loess curves
const CD19_fitX=[0,.03,.08,.2,.5,.8,1.2,1.7,2.3,3,4,5,5.75];
const CD19_fitY=[.85,1,1.15,1.28,1.3,1.5,1.8,2,2.13,2.15,2.18,2.3,2.58];
const CD79A_fitX=[0,.3,.7,1,1.5,2,2.7,4,5,6,7,8.1];
const CD79A_fitY=[.98,1,1.15,1.25,1.2,1.3,1.45,1.55,1.7,1.85,2.1,2.4];
const CD3D_fitX=[.1,.5,1,2,3,4,5,5.5,6,7,7.8];
const CD3D_fitY=[.72,.85,.95,1.1,1.25,1.37,1.42,1.48,1.6,1.9,2.25];
const CD3E_fitX=[.1,.5,1,1.5,2,2.4,3,3.5,4,5,6,7,8];
const CD3E_fitY=[.5,.75,.98,1.13,1.22,1.28,1.2,1.18,1.25,1.45,1.75,2.1,2.55];
const CD2_fitX=[.1,.5,1,1.5,2.1,2.5,3.5,4,5,6,7,7.6];
const CD2_fitY=[.47,.72,.98,1.13,1.27,1.22,1.18,1.3,1.52,1.9,2.3,2.55];
const IRF5_fitX=[.2,.5,1,1.5,2,2.5,3,3.5,4,4.5,5.05];
const IRF5_fitY=[.63,.62,.65,.8,.97,1.1,1.25,1.45,1.8,2.3,2.95];
const PTGS2_fitX=[0,.05,.15,.3,.45,.6,1,1.5,2,2.5,3,3.5,4.2];
const PTGS2_fitY=[.75,.9,1.08,1.1,1.45,1.62,1.78,1.88,1.92,1.85,1.65,1.35,1];
const CCL2_fitX=[.3,1,2,3,4,5,6,7,8,9,10.2];
const CCL2_fitY=[.33,.62,.88,1,1.12,1.32,1.55,1.85,2.2,2.65,3.15];
const CD68_fitX=[3,3.5,4.04,4.65,5.8,6,6.9,8,9.55];
const CD68_fitY=[1.68,1.35,1.18,.95,1.09,1.15,1.18,1.7,2.33];
const IL10_fitX=[0,.2,.45,.85,1.47,2.1,2.7,3.35,3.8];
const IL10_fitY=[.97,1.12,1.47,1.76,1.97,2,1.7,1.18,.92];
const CD8A_fitX=[.05,.6,1.23,1.6,2.13,2.9,4.2,6.35];
const CD8A_fitY=[.6,1.12,1.39,1.42,1.22,1.15,1.32,1.77];
const CD8B_fitX=[0,.36,.7,1.05,2.4,3.55,4.45,5.6];
const CD8B_fitY=[.68,1.27,1.33,1.24,1.17,1.24,1.37,1.72];
const CD163_fitX=[.1,.57,1.86,3.3,4.3,5.4,7.2];
const CD163_fitY=[1.42,1.19,1.04,1.17,1.37,1.49,1.45];
const VSIG4_fitX=[.05,.6,1.37,2.23,3.33,3.73,5.77,7.75];
const VSIG4_fitY=[1.27,1.1,.98,1.2,1.17,1.32,1.6,1.45];
const MS4A4A_fitX=[0,1.1,2.4,3.1,3.95,5.25,6.1,6.95];
const MS4A4A_fitY=[1.17,1.09,1.02,1.22,1.47,1.65,1.65,1.55];

// Confidence bands
const CD19_bandX=[0,.5,1,1.5,2,3,4,5,5.75];
const CD19_hi=[1,1.45,1.95,2.5,2.7,2.78,2.95,3.5,4.25];
const CD19_lo=[.7,1.1,1.3,1.45,1.5,1.5,1.42,1.1,.78];
const CD79A_bandX=[0,.5,1,2,3,4,5,6,7,8.1];
const CD79A_hi=[1.15,1.2,1.4,1.5,1.65,1.75,1.95,2.3,3,3.9];
const CD79A_lo=[.82,.85,1.05,1.1,1.25,1.35,1.43,1.4,1.2,.92];
const CD3D_bandX=[.1,1,2,3,4,5,6,7,7.8];
const CD3D_hi=[1.15,1.1,1.22,1.37,1.57,1.62,2.05,2.7,3.45];
const CD3D_lo=[.35,.75,.95,1.13,1.2,1.22,1.2,1.1,1.05];
const CD3E_bandX=[.1,1,2,3,4,5,6,7,8];
const CD3E_hi=[.8,1.2,1.4,1.33,1.42,1.72,2.25,3,4.1];
const CD3E_lo=[.2,.78,1.05,1.05,1.07,1.18,1.22,1.2,1.05];
const CD2_bandX=[.1,1,2,3,4,5,6,7,7.6];
const CD2_hi=[.85,1.18,1.45,1.33,1.47,1.8,2.5,3.4,4.05];
const CD2_lo=[.1,.78,1.08,1.05,1.1,1.25,1.3,1.15,1.05];
const IRF5_bandX=[.2,.5,1,1.5,2,3,4,4.5,5.05];
const IRF5_hi=[1.92,1.55,1.1,1.02,1.12,1.4,2.05,2.75,4.05];
const IRF5_lo=[-.65,-.2,.25,.6,.85,1.12,1.55,1.75,1.83];
const PTGS2_bandX=[0,.3,.5,.8,1.2,2,3,3.5,4.2];
const PTGS2_hi=[.9,1.3,1.75,2.2,2.42,2.5,2.55,2.6,2.7];
const PTGS2_lo=[.6,.9,1.3,1.45,1.5,1.3,.8,.25,-.7];
const CCL2_bandX=[.3,1,2,3,4,5,6,7,8,9,10.2];
const CCL2_hi=[1.1,.95,1.05,1.17,1.3,1.5,1.75,2.15,2.7,3.4,4.3];
const CCL2_lo=[-.5,.28,.72,.85,.95,1.15,1.33,1.55,1.75,1.88,1.95];
const CD68_bandX=[3,3.5,4,4.5,5,6,7,8,8.5,9,9.55];
const CD68_hi=[2.65,2,1.55,1.25,1.25,1.3,1.35,1.95,2.35,2.75,3.45];
const CD68_lo=[.75,.75,.8,.75,.85,1,1.05,1.48,1.45,1.3,1.2];
const IL10_bandX=[0,.5,1,1.5,2,2.5,3,3.5,3.8];
const IL10_hi=[1.1,1.75,2.45,2.72,2.65,2.55,2.58,2.62,2.65];
const IL10_lo=[.85,1.2,1.25,1.28,1.28,1,.55,-.25,-.8];
const CD8A_bandX=[0,.7,1.2,1.6,2.2,3,4,5,6,6.35];
const CD8A_hi=[.9,1.35,1.6,1.62,1.4,1.35,1.55,2,2.55,2.75];
const CD8A_lo=[.35,.9,1.15,1.18,1,.97,1.08,1.12,.9,.78];
const CD8B_bandX=[0,.4,.7,1.2,2.4,3.5,4.5,5.6];
const CD8B_hi=[.9,1.42,1.5,1.45,1.35,1.42,1.75,2.75];
const CD8B_lo=[.45,1.05,1.15,1.05,.98,1.05,1.1,.75];
const CD163_bandX=[.1,.5,1,2,3,4,5,6,7.2];
const CD163_hi=[2.05,1.6,1.35,1.2,1.32,1.52,1.75,2,2.6];
const CD163_lo=[.75,.8,.85,.9,1.02,1.2,1.2,1,.3];
const VSIG4_bandX=[.05,.5,1,2,3,4,5,6,7,7.75];
const VSIG4_hi=[1.9,1.4,1.2,1.38,1.35,1.6,2,2.3,2.6,2.7];
const VSIG4_lo=[.65,.8,.8,1,1.02,1.15,1.22,1.1,.6,.15];
const MS4A4A_bandX=[0,.5,1,2,3,4,5,6,6.95];
const MS4A4A_hi=[2,1.5,1.25,1.2,1.4,1.7,2.1,2.55,2.7];
const MS4A4A_lo=[.35,.75,.9,.9,1.07,1.25,1.22,.9,.35];

// Axis tick labels
const ticks02468=["0","2","4","6","8"];
const ticks0246=["0","2","4","6"];
const ticks024=["0","2","4"];
const ticks468=["4","6","8"];
const ticks012345=["0","1","2","3","4","5"];
const ticks01234=["0","1","2","3","4"];
const ticks0123=["0","1","2","3"];
const ticksCCL2=["0.0","2.5","5.0","7.5","10.0"];
const yTicks04=["0","1","2","3","4"];
const yTicks05=["0","1","2","3","4","5"];
const yTicksTAM=["-1","0","1","2","3","4","5"];

// Panels G: LIHC samples
const LIHC_znf320=[-3.1,-2.95,-2.65,-2.35,-2.1,-2.05,-2,-1.9,-1.9,-1.85,
-1.7,-1.7,-1.65,-1.5,-1.4,-1.35,-1.3,-1.2,-1.1,-1.05,
-1.05,-1,-.95,-.9,-.85,-.8,-.75,-.7,-.65,-.6,
-.55,-.55,-.5,-.5,-.45,-.4,-.35,-.3,-.25,-.2,
-.15,-.1,-.05,0,.05,.1,.1,.15,.2,.25,
.3,.35,.4,.45,.5,.55,.6,.65,.7,.75,
.8,.85,.9,.95,1,1.05,1.1,1.15,1.2,1.25,
1.3,1.35,1.4,1.45,1.5,1.55,1.6,1.65,1.7,1.75,
1.8,1.85,1.9,1.95,2,2.05,2.1,2.15,2.2,2.25,
2.3,2.35,2.4,2.45,2.5,2.5,2.55,2.6,2.6,2.65,
2.7,2.7,2.75,2.8,2.85,2.9,2.9,2.95,3,3,
3.05,3.1,3.1,3.15,3.2,3.2,3.25,3.3,3.3,3.35,
3.4,3.4,3.45,3.5,3.5,3.55,3.6,3.6,3.65,3.7,
3.7,3.75,3.8,3.8,3.85,3.9,3.9,3.95,4,4,
4.05,4.1,4.1,4.15,4.2,4.2,4.25,4.3,4.3,4.35,
4.4,4.45,4.45,4.5,4.5,4.55,4.6,4.7,4.75,4.8,
4.9,4.95,5,5.1,5.15,5.8,
-1.6,-1.25,-1,-.8,-.6,-.45,-.3,-.1,0,.1,
.2,.3,.45,.6,.7,.85,1,1.1,1.25,1.4,
1.5,1.6,1.75,1.85,2,2.1,2.2,2.3,2.4,2.45,
2.5,2.55,2.6,2.65,2.7,2.75,2.8,2.85,2.9,2.95,
3,3,3.05,3.1,3.15,3.2,3.25,3.3,3.35,3.4,
3.4,3.45,3.5,3.55,3.6,3.65,3.7,3.75,3.8,3.85,
3.9,3.95,4,4.05,4.1,4.15,4.2,4.25,4.3,4.4,
2.2,2.35,2.5,2.6,2.7,2.8,3,3.1,3.2,3.3,
3.5,3.6,.5,.9,1.3,1.7,2.05,2.65,3.15,3.55];
const CCL15_exp=[5.5,6.35,6.4,4.7,3,7.45,7.1,6,5.3,3.5,
6.65,5.3,5.7,4.2,5.6,7.9,4.8,5.3,5.5,3.7,
6.2,6.4,5,5.2,4.6,6.5,5.8,4.8,3.8,5.5,
6.4,3.05,7.45,5.9,4.4,6.5,5.4,4.9,6.75,5.2,
3.4,6.4,4.1,5.8,5,4.5,5.4,5.9,4,5.6,
4.6,6,7.8,-3.95,5.3,4.6,3,7.45,5,4.4,
5.6,4.3,5.2,7.5,4.9,6.2,5.3,1.5,2.4,4.4,
5.6,3.6,4.7,6.1,3.8,4.8,5.5,4.4,2.05,6.6,
3.1,5.6,4.6,6.3,3.7,5.2,4.2,6.6,3.4,5,
2.5,6.9,4.5,3.3,5.7,4.2,3,-4.95,7.35,-6.15,
5.3,6.3,3.4,4.6,6,2.9,5.2,3.7,.85,6.7,
5.5,4.3,2.5,6.1,3.2,5.4,4.6,.65,5.9,3.4,
5,4,3.2,6.3,4.5,5.6,3,-5.1,-1.8,6.6,
4.8,4,5.6,3.4,6.1,0,4.5,5.2,3.3,6,
1.1,2.05,6.5,4.3,5.4,3.6,2.1,5.8,4.4,-5.8,
1.95,-1.7,5.1,-.9,2.6,3.9,3.3,6.55,4.1,4.2,
-1.25,-2.95,3.5,-7.2,4,3.05,
5.4,5.9,4.5,5.6,6.1,5.2,5.7,4.9,5.4,5,
5.8,4.7,6,5.5,4.2,5.2,5.9,4.1,5,4.4,
5.4,4.7,5.8,4.2,5.1,4.6,5.5,4.4,5.1,4.8,
5,5.6,4.5,5.3,4.8,5.5,4.3,5.1,4.6,5.7,
5.2,4.2,4.9,5.5,3.9,4.7,5.3,4.4,5,3.7,
4.6,5.4,4.1,5,3.8,4.8,5.3,4.4,5,3.6,
5.3,4.5,5,4.2,5.8,4.6,4,5.2,4.7,4.3,
4.9,4.4,5.1,4.7,4.3,5,4.6,5.2,4.1,4.8,
4.4,5,5.1,4.7,5.5,4.9,4.4,4.9,4.7,4.2];
const CXCL2_exp=[2.95,.45,7.5,3,5.5,1.7,3.2,4.8,4.1,3.6,
2.7,1,4.7,3.1,6.7,2.4,4.2,3.8,3.1,.8,
-1.1,4.8,3.9,1.9,.95,4.2,3.1,5.4,3,6.2,
4.9,3.9,1.6,-2.05,4.4,6.2,3.7,5.1,3.5,6.6,
4.2,1.9,7.6,5.7,3.4,.9,6,4.8,2.8,7,
5.1,6.4,6.9,-1.4,8.1,5.5,3.7,7.9,4.7,1.8,
5.2,6.8,4.2,5.7,3.9,6.1,3,4.7,5.1,7.6,
5.6,4.5,6.5,2.6,1.35,6.9,5.7,.35,5.1,.15,
4.3,6.9,5.6,3.2,2.4,-2,6.1,1.9,4.4,-.15,
5.7,7.5,3.4,.7,4.5,2.7,1.1,5.1,7.2,.35,
3.6,1.7,4.9,2.2,.8,5.6,2.9,1.3,.65,4.6,
6.6,2.1,3.9,6.2,1.6,5.1,2.9,-.6,4.3,1.1,
3.4,5.6,.6,2.5,7.1,4.5,1.8,3,-2.35,4.6,
2.7,-1.2,4.5,-.05,5.7,1.7,3.6,2.3,5.4,3,
4.1,-3.05,6.3,2.2,-.2,3.9,5.3,-1.8,2.6,3.3,
5.6,2.1,5.7,-.9,3.3,-.4,2.4,2.7,4.2,3,
1.9,1.8,3.2,4.3,-.2,4.05,
4.4,3.3,4.9,3.9,4.6,3,5,4,5.2,4.6,
5.7,3.7,5.3,4.1,6,5.2,3.4,4.3,5.6,4.8,
5.5,3.6,4.8,2.9,5.1,4.2,3.5,4.6,2.8,5.3,
3.8,2.3,4.6,3.2,1.9,4.2,3,5,2.5,3.6,
2.2,4.4,3.1,1.4,3.7,2.6,4.8,3.3,2,3.9,
2.7,1.2,4,2.5,3.5,2.9,1.5,3.3,4.3,2.4,
3.6,2.2,3,4,2.5,1.9,3.2,2.8,3.6,2.2,
4,2.8,3.4,2,3,3.9,1.8,2.6,3.5,3.1,
2.3,3.4,3.5,5,4.6,4.2,3,1.4,2.4,3.3];
const CCL26_exp=[-1.8,-6.4,-6.1,-6.6,-3.2,-6.3,-5.7,-6.8,2.6,-3.8,
-6.6,-4.4,-1.5,.4,-5.8,-4.3,-3.6,-4,-6.3,-4.9,
-6.6,-5.4,-7,-4.2,-6,-5.4,-2.2,-6.6,-3.2,-4.9,
-6.7,-3.5,-7.9,-2.4,-5.5,-1.1,-6.4,-.2,-2.9,-6.3,
-3.3,-1.8,-4.8,-.9,-6.1,-2.6,-3.7,-4.9,-6.1,-3.1,
-2,-6.3,-1.7,.7,.3,-5.1,-6.5,-3.6,-.4,-6.7,
-2.2,-.9,-5.1,-1.6,-2.8,-1,-3.9,.3,-6.6,-3.2,
-6.9,-2.9,-1.4,-5.5,-7,-3,-6.7,-4.6,-1.3,-6.2,
-2.2,-.5,-3.9,-5.5,-6.9,-2.6,-1.7,-6.7,-3.9,-4.8,
-.4,-2.9,-1.3,-6.2,.45,1.9,-3.6,-6.9,-2.8,-5.9,
3.1,-4.4,-1.8,-6.5,2.95,1.05,-3.8,-7.1,2.6,-5.3,
2.2,.75,-3.1,1.6,-6.8,-5,-1.4,-4,.95,-6.8,
.3,-3.4,-5.9,-1.2,-5,.45,-2.4,-3.2,.6,-5.9,
-4.3,-.8,-2.8,-5.5,-1.4,-6.6,-3.2,-2,.6,-5,
-3.8,-1.2,-6.2,-2.1,.35,-5.2,-6.6,-3.2,-6.9,-1.8,
2.6,-2.4,.2,-1.4,-.55,-3.4,-5.7,-5.9,-1.5,-7,
-4.1,-1.3,-2,-2.4,-2.4,-1.05,
-6.3,-4.8,-6,-4.3,-5.9,-3.8,-4.5,-6.2,-3.5,-5.2,
-4.7,-6.4,-3,-5.6,-2.4,-4.4,-6.6,-3.4,-5,-2.1,
-4.1,-5.8,-3.1,-1.7,-5.2,-3.6,-6.4,-2.5,-4.6,-1.5,
-3.9,-5.6,-3,-6.6,-2.2,-4.8,-3.7,-6,-2.6,-5.2,
-4,-6.3,-1.6,-4.6,-3.3,-5.8,-2.9,-6.2,-3.8,-1.9,
-4.9,-6.5,-3.6,-5.9,-2.4,-4.4,-6.7,-3.1,-5.3,-2,
-4.1,-5.7,-2.7,-6.4,-3.5,-5,-1.6,-4.3,-6.5,-2.3,
-5.1,-3.8,-6.1,-4.5,-3.2,-5.4,-4,-6,-3,-4.7,
-3.6,-5.5,-6,-4.4,-3.3,-5.6,-4.2,-5.9,-3,-4.6];
const CCL15_lineX=[-3.05,5.8];
const CCL15_lineY=[6.2,3.4];
const CXCL2_lineX=[-3,5.8];
const CXCL2_lineY=[5.3,2.74];
const CCL26_lineX=[-3.1,5.78];
const CCL26_lineY=[-4.75,-2.87];
const gTicksX=["-2","0","2","4","6"];
const CCL15_ticksY=["-4","0","4","8"];
const CXCL2_ticksY=["-3","0","3","6"];
const CCL26_ticksY=["-8","-4","0","4"];

const NS="http://www.w3.org/2000/svg";
const root=document.getElementById("charts");
function make(tag,attrs,parent){
  const e=document.createElementNS(NS,tag);
  for(const k in attrs){e.setAttribute(k,attrs[k]);}
  parent.appendChild(e);
  return e;
}
function linear(origin,k){return function(v){return origin+v*k;};}
function curvePath(xs,ys){
  let d="M"+xs[0].toFixed(1)+" "+ys[0].toFixed(1);
  d+=curveSeg(xs,ys);
  return d;
}
function curveSeg(xs,ys){
  let d="";
  const n=xs.length;
  for(let i=0;i<n-1;i++){
    const a=Math.max(i-1,0),b=Math.min(i+2,n-1);
    const c1x=xs[i]+(xs[i+1]-xs[a])/6,c1y=ys[i]+(ys[i+1]-ys[a])/6;
    const c2x=xs[i+1]-(xs[b]-xs[i])/6,c2y=ys[i+1]-(ys[b]-ys[i])/6;
    d+="C"+c1x.toFixed(1)+" "+c1y.toFixed(1)+" "+c2x.toFixed(1)+" "+c2y.toFixed(1)+" "+xs[i+1].toFixed(1)+" "+ys[i+1].toFixed(1);
  }
  return d;
}

const rowA={top:45,bottom:219,strip:28,y0:211,ky:33.4,lab:236};
const rowC={top:301,bottom:477.5,strip:284,y0:449,ky:29.15,lab:494};
const rowD={top:301,bottom:477.5,strip:284,y0:445.3,ky:28.57,lab:494};
const rowE={top:555.5,bottom:732.5,strip:539,y0:724.3,ky:33.5,lab:750};

const geneAxes=[
 {id:"cd19",xv:CD19,fx:CD19_fitX,fy:CD19_fitY,bx:CD19_bandX,hi:CD19_hi,lo:CD19_lo,row:rowA,l:52,r:232,x0:59,kx:28.4,xl:ticks0246,side:34,yl:yTicks04,dot:1.7},
 {id:"cd79a",xv:CD79A,fx:CD79A_fitX,fy:CD79A_fitY,bx:CD79A_bandX,hi:CD79A_hi,lo:CD79A_lo,row:rowA,l:238,r:419,x0:246,kx:19.6,xl:ticks0246,dot:1.7},
 {id:"cd3d",xv:CD3D,fx:CD3D_fitX,fy:CD3D_fitY,bx:CD3D_bandX,hi:CD3D_hi,lo:CD3D_lo,row:rowA,l:465.5,r:645,x0:471.3,kx:21.04,xl:ticks02468,side:447,yl:yTicks04,dot:1.7},
 {id:"cd3e",xv:CD3E,fx:CD3E_fitX,fy:CD3E_fitY,bx:CD3E_bandX,hi:CD3E_hi,lo:CD3E_lo,row:rowA,l:650,r:830,x0:657.2,kx:20.4,xl:ticks02468,dot:1.7},
 {id:"cd2",xv:CD2,fx:CD2_fitX,fy:CD2_fitY,bx:CD2_bandX,hi:CD2_hi,lo:CD2_lo,row:rowA,l:835,r:1014,x0:841,kx:21.66,xl:ticks0246,dot:1.7},
 {id:"irf5",xv:IRF5,fx:IRF5_fitX,fy:IRF5_fitY,bx:IRF5_bandX,hi:IRF5_hi,lo:IRF5_lo,row:rowC,l:52,r:232,x0:51.7,kx:34,xl:ticks012345,side:34,yl:yTicks05,dot:2.7},
 {id:"ptgs2",xv:PTGS2,fx:PTGS2_fitX,fy:PTGS2_fitY,bx:PTGS2_bandX,hi:PTGS2_hi,lo:PTGS2_lo,row:rowC,l:238,r:419,x0:246,kx:39.3,xl:ticks01234,dot:2.6},
 {id:"ccl2",xv:CCL2,fx:CCL2_fitX,fy:CCL2_fitY,bx:CCL2_bandX,hi:CCL2_hi,lo:CCL2_lo,row:rowD,l:464.7,r:647.7,x0:467.3,kx:16.83,xl:ticksCCL2,tickStep:2.5,side:447,yl:yTicksTAM,yFrom:-1,dot:1.7},
 {id:"cd68",xv:CD68,fx:CD68_fitX,fy:CD68_fitY,bx:CD68_bandX,hi:CD68_hi,lo:CD68_lo,row:rowD,l:652.7,r:831,x0:588.1,kx:24.4,xl:ticks468,xFrom:4,dot:1.7},
 {id:"il10",xv:IL10,fx:IL10_fitX,fy:IL10_fitY,bx:IL10_bandX,hi:IL10_hi,lo:IL10_lo,row:rowD,l:836,r:1014,x0:844.3,kx:42.6,xl:ticks0123,yFrom:-1,dot:1.7},
 {id:"cd8a",xv:CD8A,fx:CD8A_fitX,fy:CD8A_fitY,bx:CD8A_bandX,hi:CD8A_hi,lo:CD8A_lo,row:rowE,l:52,r:232,x0:58,kx:26.05,xl:ticks0246,side:34,yl:yTicks04,dot:1.7},
 {id:"cd8b",xv:CD8B,fx:CD8B_fitX,fy:CD8B_fitY,bx:CD8B_bandX,hi:CD8B_hi,lo:CD8B_lo,row:rowE,l:238,r:419,x0:246,kx:29.33,xl:ticks024,dot:1.7},
 {id:"cd163",xv:CD163,fx:CD163_fitX,fy:CD163_fitY,bx:CD163_bandX,hi:CD163_hi,lo:CD163_lo,row:rowE,l:464.7,r:647.3,x0:470,kx:23.3,xl:ticks0246,side:447,yl:yTicks04,dot:1.7},
 {id:"vsig4",xv:VSIG4,fx:VSIG4_fitX,fy:VSIG4_fitY,bx:VSIG4_bandX,hi:VSIG4_hi,lo:VSIG4_lo,row:rowE,l:651,r:831.7,x0:657.7,kx:21.2,xl:ticks02468,dot:1.7},
 {id:"ms4a4a",xv:MS4A4A,fx:MS4A4A_fitX,fy:MS4A4A_fitY,bx:MS4A4A_bandX,hi:MS4A4A_hi,lo:MS4A4A_lo,row:rowE,l:836,r:1014,x0:844.3,kx:23,xl:ticks0246,dot:1.7}
];

geneAxes.forEach(function(p){
  const R=p.row;
  const sx=linear(p.x0,p.kx),sy=linear(R.y0,-R.ky);
  const g=make("g",{},root);
  
  
  const bg=make("rect",{x:p.l,y:R.top,width:p.r-p.l,height:R.bottom-R.top,fill:"#fff"},g);
  
  
  const step=p.tickStep||2;
  const st=(p.id==="irf5"||p.id==="ptgs2"||p.id==="il10")?1:step;
  const from=p.xFrom||0;
  const tx=[];
  for(let i=0;i<p.xl.length;i++){tx.push(from+i*st);}
  // vertical grid
  for(let v=from-st*2;v<from+st*12;v+=st/2){
    const px=sx(v);
    if(px<=p.l+1||px>=p.r-1){continue;}
    const major=Math.abs((v-from)/st-Math.round((v-from)/st))<1e-6;
    const ln=make("line",{x1:px,x2:px,y1:R.top,y2:R.bottom,stroke:major?"#e2e2e2":"#efefef","stroke-width":major?2.6:1.6},g);
    
    
  }
  // horizontal grid
  for(let v=-2;v<=6;v+=.5){
    const py=sy(v);
    if(py<=R.top+1||py>=R.bottom-1){continue;}
    const major=Number.isInteger(v);
    const ln=make("line",{x1:p.l,x2:p.r,y1:py,y2:py,stroke:major?"#e2e2e2":"#efefef","stroke-width":major?2.6:1.6},g);
    
    
  }
  // points
  const n=Math.min(p.xv.length,ZNF320.length);
  for(let i=0;i<n;i++){
    const c=make("circle",{cx:sx(p.xv[i]).toFixed(1),cy:sy(ZNF320[i]).toFixed(1),r:p.dot,fill:"#000"},g);
    
    
  }
  // ribbon
  const bxs=p.bx.map(sx),hy=p.hi.map(sy);
  const rbx=bxs.slice().reverse(),rly=p.lo.map(sy).reverse();
  const rib=make("path",{d:curvePath(bxs,hy)+"L"+rbx[0].toFixed(1)+" "+rly[0].toFixed(1)+curveSeg(rbx,rly)+"Z",fill:"#8f8f8f","fill-opacity":".48"},g);
  
  
  // fit
  const fit=make("path",{d:curvePath(p.fx.map(sx),p.fy.map(sy)),fill:"none",stroke:"#3a66b4","stroke-width":4.2,"stroke-linejoin":"round"},g);
  
  
  // strips + frame
  const strip=make("rect",{x:p.l,y:R.strip,width:p.r-p.l,height:R.top-R.strip,fill:"#cfcfcf",stroke:"#333","stroke-width":2.4},g);
  
  
  const frame=make("rect",{x:p.l,y:R.top,width:p.r-p.l,height:R.bottom-R.top,fill:"none",stroke:"#333","stroke-width":2.4},g);
  
  
  // x ticks
  p.xl.forEach(function(label,i){
    const px=sx(tx[i]);
    const tk=make("line",{x1:px,x2:px,y1:R.bottom+1,y2:R.bottom+4,stroke:"#333","stroke-width":1},g);
    
    
    const t=make("text",{x:px,y:R.lab,"text-anchor":"middle","font-size":"16",fill:"#4d4d4d"},g);
    t.textContent=label;
    
    
  });
  // left strip + y axis
  if(p.side!==undefined){
    const ls=make("rect",{x:p.side,y:R.top,width:p.l-p.side,height:R.bottom-R.top,fill:"#cfcfcf",stroke:"#333","stroke-width":2.4},g);
    
    
    const yFrom=p.yFrom||0;
    p.yl.forEach(function(label,i){
      const py=sy(yFrom+i);
      const tk=make("line",{x1:p.side-4,x2:p.side-1,y1:py,y2:py,stroke:"#333","stroke-width":1},g);
      
      
      const t=make("text",{x:p.side-4.5,y:py+5.5,"text-anchor":"end","font-size":"16",fill:"#4d4d4d"},g);
      t.textContent=label;
      
      
    });
  }
});

const lihcAxes=[
 {id:"ccl15",yv:CCL15_exp,lx:CCL15_lineX,ly:CCL15_lineY,yl:CCL15_ticksY,yFrom:-4,yStep:4,l:50.7,r:271.3,t:823.3,b:1046.7,x0:130.7,kx:22.6,y0:939.7,ky:13.38,ytx:42},
 {id:"cxcl2",yv:CXCL2_exp,lx:CXCL2_lineX,ly:CXCL2_lineY,yl:CXCL2_ticksY,yFrom:-3,yStep:3,l:424.3,r:646,t:823.3,b:1045,x0:503.3,kx:22.9,y0:980,ky:17.78,ytx:413.5},
 {id:"ccl26",yv:CCL26_exp,lx:CCL26_lineX,ly:CCL26_lineY,yl:CCL26_ticksY,yFrom:-8,yStep:4,l:790,r:1012,t:825,b:1046.7,x0:870.7,kx:22.7,y0:898.3,ky:17.7,ytx:783.5}
];
lihcAxes.forEach(function(p){
  const sx=linear(p.x0,p.kx),sy=linear(p.y0,-p.ky);
  const g=make("g",{},root);
  
  
  const n=Math.min(p.yv.length,LIHC_znf320.length);
  for(let i=0;i<n;i++){
    const c=make("circle",{cx:sx(LIHC_znf320[i]).toFixed(1),cy:sy(p.yv[i]).toFixed(1),r:1.8,fill:"#2fb680"},g);
    
    
  }
  const fit=make("line",{x1:sx(p.lx[0]),y1:sy(p.ly[0]),x2:sx(p.lx[1]),y2:sy(p.ly[1]),stroke:"#2f7d52","stroke-width":2.2},g);
  
  
  const box=make("rect",{x:p.l,y:p.t,width:p.r-p.l,height:p.b-p.t,fill:"none",stroke:"#8a8a8a","stroke-width":1.2},g);
  
  
  const ax=make("path",{d:"M"+p.l+" "+p.t+"V"+p.b+"H"+p.r,fill:"none",stroke:"#666","stroke-width":1.3},g);
  
  
  gTicksX.forEach(function(label,i){
    const px=sx(-2+i*2);
    const tk=make("line",{x1:px,x2:px,y1:p.b,y2:p.b+4,stroke:"#444","stroke-width":1},g);
    
    
    const t=make("text",{x:px,y:p.b+17,"text-anchor":"middle","font-size":"17",fill:"#222"},g);
    t.textContent=label;
    
    
  });
  p.yl.forEach(function(label,i){
    const py=sy(p.yFrom+i*p.yStep);
    const tk=make("line",{x1:p.l-4,x2:p.l,y1:py,y2:py,stroke:"#444","stroke-width":1},g);
    
    
    const t=make("text",{transform:"translate("+p.ytx+","+py+") rotate(-90)","text-anchor":"middle","font-size":"17",fill:"#222"},g);
    t.textContent=label;
    
    
  });
});
</script>
</body>
</html>
